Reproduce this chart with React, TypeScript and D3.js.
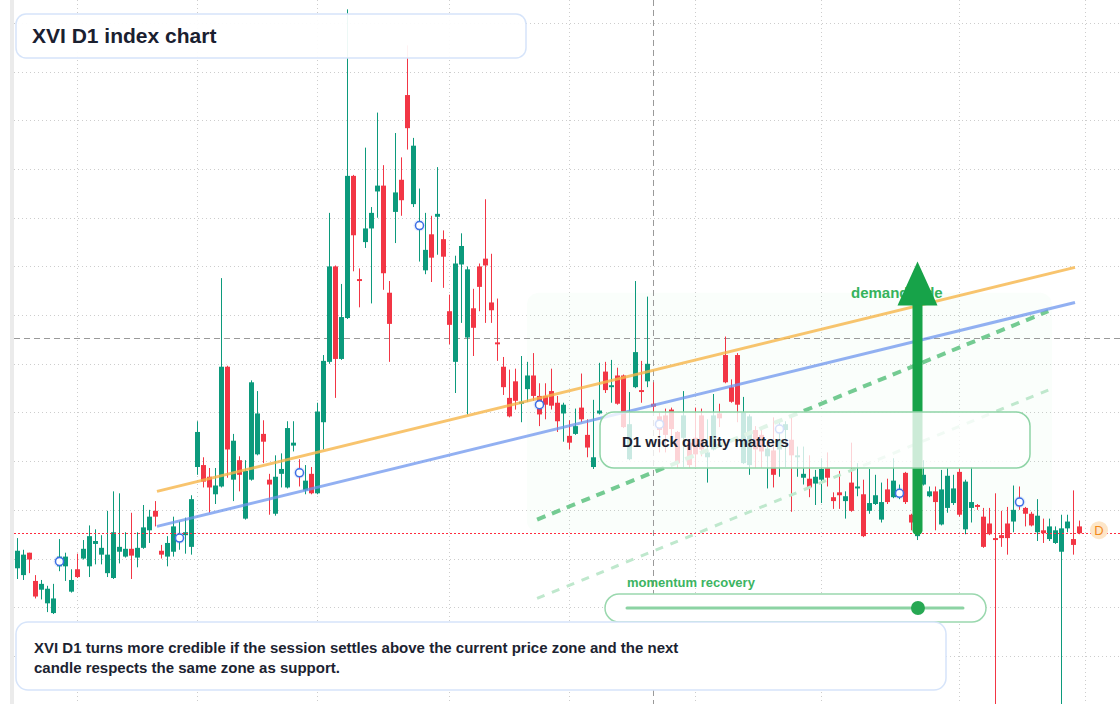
import React from 'react';
import * as d3 from 'd3';

const W = 1120;
const H = 704;
const FONT = '"Liberation Sans", Arial, Helvetica, sans-serif';

// Daily OHLC values (index units)
const OPEN = [3040,3033,3056,3027,3018,3004,2994,3042,3042,3016,3039,3050,3042,3065,3054,3035,3030,3057,3052,3060,3051,3061,3079,3099,3058,3052,3057,3068,3074,3062,
3144,3146,3134,3116,3124,3247,3131,3151,3091,3131,3157,3178,3131,3096,3137,3123,3166,3141,3120,3137,3117,3190,3252,3350,3255,3297,3443,3337,3375,3389,
3427,3433,3323,3406,3439,3526,3414,3388,3346,3383,3401,3378,3304,3252,3352,3277,3307,3350,3358,3313,3272,3247,3215,3232,3209,3224,3238,3217,3217,3222,
3210,3199,3176,3178,3205,3177,3144,3199,3242,3226,3238,3238,3152,3226,3223,3232,3209,3196,3197,3203,3180,3174,3169,3174,3197,3154,3162,3199,3259,3226,
3259,3148,3146,3182,3177,3155,3161,3162,3182,3172,3154,3133,3132,3127,3131,3143,3113,3118,3109,3128,3122,3116,3099,3106,3090,3121,3113,3114,3138,3095,
3073,3126,3114,3119,3085,3102,3107,3139,3080,3102,3105,3093,3086,3071,3074,3086,3088,3111,3102,3096,3077,3079,3070,3066,3057,3081,3070,3083];
const HIGH = [3071,3059,3056,3033,3028,3022,3024,3070,3056,3039,3055,3069,3084,3080,3074,3099,3119,3117,3077,3097,3077,3105,3100,3109,3064,3073,3093,3088,3092,3115,
3191,3154,3143,3143,3338,3248,3178,3155,3151,3233,3222,3192,3137,3156,3158,3191,3191,3152,3146,3144,3210,3259,3405,3351,3332,3614,3444,3348,3472,3411,
3508,3454,3335,3487,3462,3577,3482,3430,3405,3402,3452,3387,3321,3361,3384,3350,3327,3353,3419,3363,3317,3257,3244,3245,3258,3252,3261,3230,3230,3245,
3217,3210,3192,3204,3240,3193,3213,3251,3252,3254,3246,3239,3221,3335,3253,3319,3231,3200,3204,3205,3181,3222,3172,3205,3204,3193,3219,3209,3278,3234,
3261,3216,3198,3186,3182,3167,3195,3190,3191,3196,3165,3165,3156,3141,3153,3159,3118,3140,3119,3169,3148,3131,3142,3136,3128,3132,3153,3126,3139,3096,
3131,3151,3124,3124,3141,3143,3136,3143,3131,3144,3106,3102,3102,3117,3099,3103,3125,3124,3103,3098,3111,3091,3091,3083,3095,3095,3120,3089];
const LOW = [3029,3028,3035,3009,3008,2995,2993,3037,3027,3015,3030,3049,3031,3044,3044,3031,3029,3045,3051,3029,3041,3060,3066,3083,3050,3042,3052,3059,3055,3054,
3136,3123,3097,3106,3123,3133,3109,3119,3090,3130,3156,3148,3095,3094,3123,3122,3160,3124,3116,3116,3116,3162,3250,3215,3254,3296,3345,3308,3369,3312,
3400,3326,3252,3374,3402,3470,3411,3355,3342,3334,3362,3328,3270,3220,3292,3198,3258,3304,3292,3292,3253,3218,3195,3203,3190,3211,3212,3186,3193,3203,
3180,3170,3162,3177,3190,3154,3142,3198,3220,3210,3208,3184,3151,3225,3210,3226,3200,3159,3159,3172,3143,3144,3143,3144,3155,3128,3161,3185,3230,3210,
3190,3147,3136,3143,3143,3122,3123,3134,3144,3098,3134,3126,3113,3105,3107,3124,3101,3101,3091,3098,3114,3072,3096,3105,3087,3106,3112,3111,3106,3079,
3069,3125,3113,3079,3084,3097,3105,3093,3075,3087,3100,3061,3074,2874,3062,3054,3077,3100,3083,3083,3068,3066,3068,3065,2874,3077,3054,3075];
const CLOSE = [3058,3054,3049,3011,3024,3019,3009,3052,3052,3028,3031,3060,3073,3068,3061,3054,3077,3062,3060,3053,3061,3082,3093,3093,3054,3066,3083,3075,3077,3111,
3180,3129,3123,3125,3247,3162,3171,3136,3140,3231,3199,3170,3126,3134,3142,3184,3169,3135,3130,3117,3201,3253,3350,3255,3298,3443,3382,3335,3389,3405,
3433,3343,3291,3426,3418,3492,3474,3396,3367,3359,3404,3360,3290,3353,3371,3347,3287,3329,3351,3305,3270,3226,3196,3212,3211,3238,3217,3198,3208,3207,
3191,3208,3169,3186,3193,3164,3154,3202,3223,3228,3209,3185,3188,3262,3221,3250,3206,3182,3177,3183,3148,3197,3146,3157,3162,3159,3197,3194,3231,3211,
3208,3200,3196,3162,3160,3163,3136,3172,3188,3156,3156,3137,3123,3134,3142,3133,3109,3115,3114,3099,3124,3073,3107,3115,3108,3108,3130,3121,3108,3087,
3111,3136,3119,3108,3121,3135,3122,3095,3129,3108,3103,3062,3075,3069,3071,3071,3100,3105,3096,3084,3094,3076,3083,3079,3081,3088,3064,3076];

// Session markers (candle index, level)
const MARKER_IDX = [7, 27, 47, 67, 87, 107, 127, 147, 167];
const MARKER_LVL = [3047, 3071, 3138, 3392, 3208, 3188, 3183, 3117, 3108];

// Month boundaries (candle index) and price grid levels
const MONTH_IDX = [10, 30, 50, 72, 92, 113, 134, 157, 178];
const PRICE_TICKS = d3.range(2900, 3601, 50);

// Trend lines [index, level]
const ORANGE_LINE = [[23.25, 3119], [176.25, 3349]];
const BLUE_LINE = [[23.25, 3083], [176.25, 3313]];
const DASH_MAIN = [[86.6, 3090], [171.8, 3304]];
const DASH_LIGHT = [[86.6, 3009], [171.8, 3223]];
const ZONE = { i0: 84.9, i1: 172.4, top: 3323, bottom: 3077 };
const ARROW = { idx: 150, from: 3076, base: 3310, tip: 3355 };
const CROSS = { idx: 106, level: 3277 };
const LAST_PRICE = 3076;
const MOMENTUM = 0.866;

const GREEN = '#0c9a7c';
const RED = '#f23645';

export default function App() {
  const x = d3.scaleLinear().domain([0, 177]).range([17.5, 1079.5]);
  const y = d3.scaleLinear().domain([2900, 3600]).range([704.6, 23]);
  const line = d3.line<number[]>().x(d => x(d[0])).y(d => y(d[1]));
  const bw = 5;

  const slider = d3.scaleLinear().domain([0, 1]).range([627, 963]);
  const ax = x(ARROW.idx);
  const lastY = Math.round(y(LAST_PRICE)) + 0.5;

  return (
    <svg width={W} height={H} style={{ position: 'absolute', left: 0, top: 0, background: '#fff' }} fontFamily={FONT}>
      <defs>
        <clipPath id="plot"><rect x={14} y={0} width={W - 14} height={H} /></clipPath>
      </defs>
      <rect x={0} y={0} width={W} height={H} fill="#fff" />
      <rect x={10} y={0} width={4} height={H} fill="#ebebeb" />
      {/* grid */}
      <g stroke="#cdcdcd" strokeWidth={1} strokeDasharray="1 3">
        {PRICE_TICKS.map(t => (
          <line key={'h' + t} x1={14} x2={W} y1={Math.round(y(t)) + 0.5} y2={Math.round(y(t)) + 0.5} />
        ))}
        {MONTH_IDX.map(m => (
          <line key={'v' + m} x1={x(m)} x2={x(m)} y1={0} y2={H} />
        ))}
      </g>
      {/* demand zone */}
      <rect x={x(ZONE.i0)} y={y(ZONE.top)} width={x(ZONE.i1) - x(ZONE.i0)} height={y(ZONE.bottom) - y(ZONE.top)}
        rx={12} fill="#22c55e" fillOpacity={0.025} />
      {/* crosshair */}
      <g stroke="#9a9a9a" strokeWidth={1} strokeDasharray="6 4">
        <line x1={14} x2={W} y1={Math.round(y(CROSS.level)) + 0.5} y2={Math.round(y(CROSS.level)) + 0.5} />
        <line x1={x(CROSS.idx)} x2={x(CROSS.idx)} y1={0} y2={H} />
      </g>
      {/* candles */}
      <g clipPath="url(#plot)">
        {OPEN.map((o, i) => {
          const c = CLOSE[i];
          const up = c >= o;
          const col = up ? GREEN : RED;
          const cx = x(i);
          const top = y(Math.max(o, c));
          const bot = y(Math.min(o, c));
          return (
            <g key={i}>
              <line x1={cx} x2={cx} y1={y(HIGH[i])} y2={y(LOW[i])} stroke={col} strokeWidth={1} />
              <rect x={cx - bw / 2} y={top} width={bw} height={Math.max(1.5, bot - top)} fill={col} />
            </g>
          );
        })}
      </g>
      {/* last price */}
      <line x1={14} x2={W} y1={lastY} y2={lastY} stroke="#ff2b3e" strokeWidth={1} strokeDasharray="2 2" />
      {/* trend lines */}
      <path d={line(DASH_LIGHT as any) || ''} stroke="#bfe8cd" strokeWidth={3} strokeDasharray="8 8" fill="none" />
      <path d={line(DASH_MAIN as any) || ''} stroke="#74cb92" strokeWidth={4} strokeDasharray="9 7" fill="none" />
      <path d={line(ORANGE_LINE as any) || ''} stroke="#f6b54a" strokeOpacity={0.8} strokeWidth={3} fill="none" />
      <path d={line(BLUE_LINE as any) || ''} stroke="#6d96ee" strokeOpacity={0.75} strokeWidth={3} fill="none" />
      {/* markers */}
      {MARKER_IDX.map((m, k) => (
        <g key={'m' + m}>
          <circle cx={x(m)} cy={y(MARKER_LVL[k])} r={6} fill="#3d6fe6" fillOpacity={0.12} />
          <circle cx={x(m)} cy={y(MARKER_LVL[k])} r={4} fill="#fff" stroke="#3d6fe6" strokeWidth={1.5} />
        </g>
      ))}
      {/* demand side + arrow */}
      <text x={851} y={298} fontSize={15} fontWeight="bold" fill="#35b35c">demand side</text>
      <line x1={ax} x2={ax} y1={y(ARROW.from) - 3} y2={y(ARROW.base)} stroke="#17a349" strokeWidth={10} strokeLinecap="round" />
      <path d={`M${ax - 20},${y(ARROW.base)} L${ax + 20},${y(ARROW.base)} L${ax},${y(ARROW.tip)} Z`} fill="#17a349" />
      {/* wick quality box */}
      <rect x={600} y={412} width={430} height={56} rx={14} fill="#fff" fillOpacity={0.78} stroke="#8fd4a6" strokeWidth={1.5} />
      <text x={622} y={447} fontSize={15} fontWeight="bold" fill="#1c2331">D1 wick quality matters</text>
      {/* title */}
      <rect x={16} y={14} width={510} height={44} rx={10} fill="#fff" fillOpacity={0.93} stroke="#d6e4fa" strokeWidth={1.5} />
      <text x={32} y={43} fontSize={21} fontWeight="bold" fill="#1a2030">XVI D1 index chart</text>
      {/* momentum slider */}
      <text x={627} y={587} fontSize={13} fontWeight="bold" fill="#3cb462">momentum recovery</text>
      <rect x={605} y={594} width={381} height={28} rx={14} fill="#fff" stroke="#9ad8ae" strokeWidth={1.5} />
      <line x1={slider(0)} x2={slider(1)} y1={608} y2={608} stroke="#8cd3a3" strokeWidth={3} strokeLinecap="round" />
      <circle cx={slider(MOMENTUM)} cy={608} r={7} fill="#27a853" />
      {/* note */}
      <rect x={16} y={622} width={930} height={68} rx={12} fill="#fff" stroke="#d6e4fa" strokeWidth={1.5} />
      <text x={34} y={652.5} fontSize={15} fontWeight="bold" fill="#1c2331">XVI D1 turns more credible if the session settles above the current price zone and the next</text>
      <text x={34} y={672.5} fontSize={15} fontWeight="bold" fill="#1c2331">candle respects the same zone as support.</text>
      {/* last price badge */}
      <circle cx={1099} cy={y(LAST_PRICE) - 3} r={9} fill="#fde6c8" />
      <text x={1099} y={y(LAST_PRICE) + 1.5} fontSize={13} textAnchor="middle" fill="#f28a1c">D</text>
    </svg>
  );
}
